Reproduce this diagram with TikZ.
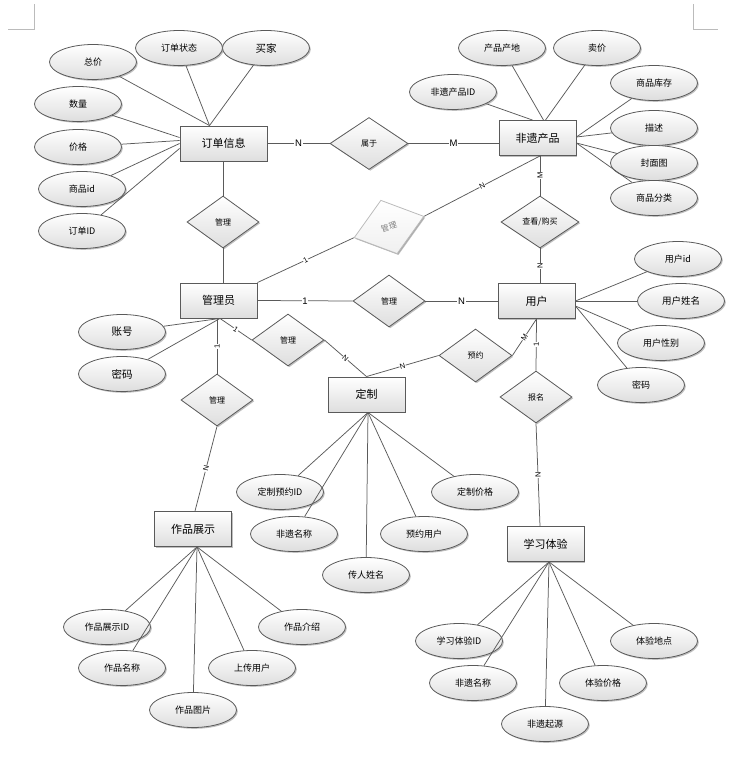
\documentclass[tikz,border=0pt]{standalone}
\usepackage{fontspec}
\setmainfont{Noto Sans CJK SC}
\newfontfamily\latfont{Liberation Sans}
\usetikzlibrary{shapes.geometric,shadows,calc}
\definecolor{linec}{HTML}{5A5A5A}
\definecolor{fillb}{HTML}{DEDEDE}
\definecolor{markc}{HTML}{BBBBBB}
\begin{document}
\begin{tikzpicture}[x=1pt,y=-1pt,
  shd/.style={drop shadow={shadow xshift=1.3pt,shadow yshift=-1.3pt,opacity=0.25,fill=black}},
  ent/.style={rectangle,draw=linec,line width=0.9pt,top color=white,bottom color=fillb,shd,
    minimum width=77pt,minimum height=35pt,inner sep=0pt,font=\fontsize{11}{11}\selectfont},
  attr/.style={ellipse,draw=linec,line width=0.8pt,top color=white,bottom color=fillb,shd,
    minimum width=87pt,minimum height=35pt,inner sep=0pt,font=\fontsize{9}{9}\selectfont},
  bigattr/.style={attr,font=\fontsize{10.5}{10.5}\selectfont},
  rel/.style={diamond,draw=linec,line width=0.8pt,top color=white,bottom color=fillb,shd,
    minimum width=72pt,minimum height=52pt,inner sep=0pt,font=\fontsize{8}{8}\selectfont},
  conn/.style={draw=linec,line width=0.75pt},
  lab/.style={fill=white,inner sep=0.6pt,font=\latfont\fontsize{9.5}{9.5}\selectfont},
  slab/.style={fill=white,inner sep=0.4pt,font=\latfont\fontsize{7.5}{7.5}\selectfont},
  pgmark/.style={draw=markc,line width=0.6pt}
]
\useasboundingbox (0,0) rectangle (740,768);

% page corner marks
\coordinate (tl1) at (8,29); \coordinate (tl2) at (34,29); \coordinate (tl3) at (34,4);
\draw[pgmark] (tl1) -- (tl2) -- (tl3);
\coordinate (tr1) at (693,4); \coordinate (tr2) at (693,29); \coordinate (tr3) at (718,29);
\draw[pgmark] (tr1) -- (tr2) -- (tr3);

% entities
\node[ent,minimum width=87pt] (dd) at (223.5,143.5) {订单信息};
\node[ent] (fy) at (537.5,138) {非遗产品};
\node[ent] (gly) at (218.5,300.5) {管理员};
\node[ent] (yh) at (536.5,301) {用户};
\node[ent] (dz) at (366.5,394.5) {定制};
\node[ent] (zp) at (193,529) {作品展示};
\node[ent] (xx) at (545.5,544) {学习体验};

% relationships
\node[rel,minimum width=78pt] (sy) at (369,143.5) {属于};
\node[rel] (gl1) at (223,222) {管理};
\node[rel,draw=markc,top color=white,bottom color=gray!12,text=gray,rotate=17,minimum width=73pt,minimum height=56pt,drop shadow={shadow xshift=0.8pt,shadow yshift=-0.8pt,opacity=0.12,fill=black}] (gl2) at (389,227) {管理};
\node[rel,minimum width=78pt] (ck) at (540,222) {查看/购买};
\node[rel] (gl3) at (389,301) {管理};
\node[rel] (gl4) at (288,340) {管理};
\node[rel] (gl5) at (217,400) {管理};
\node[rel,minimum width=73pt,minimum height=53pt] (yy) at (475.5,355.5) {预约};
\node[rel] (bm) at (536,397) {报名};

% attributes of 订单信息
\node[attr] (a1) at (179,48) {订单状态};
\node[bigattr] (a2) at (266,48) {买家};
\node[attr] (a3) at (93,62) {总价};
\node[attr] (a4) at (78,104) {数量};
\node[attr] (a5) at (78,147) {价格};
\node[attr] (a6) at (82,189) {商品id};
\node[attr] (a7) at (82,231) {订单ID};
% attributes of 非遗产品
\node[attr] (b1) at (502,48) {产品产地};
\node[attr] (b2) at (597,48) {卖价};
\node[attr] (b3) at (453,92) {非遗产品ID};
\node[attr] (b4) at (654,83) {商品库存};
\node[attr] (b5) at (654,128) {描述};
\node[attr] (b6) at (654,163) {封面图};
\node[attr] (b7) at (654,198) {商品分类};
% attributes of 用户
\node[attr] (c1) at (678,259) {用户id};
\node[attr,font=\fontsize{9.5}{9.5}\selectfont] (c2) at (681,301) {用户姓名};
\node[attr] (c3) at (661,343) {用户性别};
\node[attr] (c4) at (641,385) {密码};
% attributes of 管理员
\node[bigattr] (d1) at (122,332) {账号};
\node[bigattr] (d2) at (122,374) {密码};
% attributes of 定制
\node[attr] (e1) at (280,492) {定制预约ID};
\node[attr] (e2) at (294,534) {非遗名称};
\node[attr] (e3) at (366,575) {传人姓名};
\node[attr] (e4) at (424,534) {预约用户};
\node[attr] (e5) at (475,492) {定制价格};
% attributes of 作品展示
\node[attr] (f1) at (107,627) {作品展示ID};
\node[attr] (f2) at (122,668) {作品名称};
\node[attr] (f3) at (193,710) {作品图片};
\node[attr] (f4) at (252,668) {上传用户};
\node[attr] (f5) at (302,627) {作品介绍};
% attributes of 学习体验
\node[attr] (g1) at (459,641) {学习体验ID};
\node[attr] (g2) at (473,683) {非遗名称};
\node[attr] (g3) at (545,724) {非遗起源};
\node[attr] (g4) at (603,683) {体验价格};
\node[attr] (g5) at (654,641) {体验地点};

% attribute connectors
\draw[conn] (a1) -- ($(dd.north)+(-14,0)$);
\draw[conn] (a2) -- ($(dd.north)+(-14,0)$);
\draw[conn] (a3) -- ($(dd.north)+(-14,0)$);
\draw[conn] (a4) -- ($(dd.west)+(0,-6)$);
\draw[conn] (a5) -- ($(dd.west)+(0,-3)$);
\draw[conn] (a6) -- (dd.west);
\draw[conn] (a7) -- ($(dd.west)+(0,5)$);

\draw[conn] (b1) -- ($(fy.north)+(6,0)$);
\draw[conn] (b2) -- ($(fy.north)+(8,0)$);
\draw[conn] (b3) -- ($(fy.north)+(-5,0)$);
\draw[conn] (b4) -- ($(fy.east)+(0,-1)$);
\draw[conn] (b5) -- ($(fy.east)+(0,-1)$);
\draw[conn] (b6) -- ($(fy.east)+(0,5)$);
\draw[conn] (b7) -- ($(fy.east)+(0,5)$);

\draw[conn] (c1) -- (yh.east);
\draw[conn] (c2) -- (yh.east);
\draw[conn] (c3) -- ($(yh.east)+(0,5)$);
\draw[conn] (c4) -- ($(yh.east)+(0,5)$);

\draw[conn] (d1) -- ($(gly.south)+(1.5,0)$);
\draw[conn] (d2) -- ($(gly.south)+(1.5,0)$);

\draw[conn] (e1) -- ($(dz.south)+(1.5,0)$);
\draw[conn] (e2) -- ($(dz.south)+(1.5,0)$);
\draw[conn] (e3) -- ($(dz.south)+(1.5,0)$);
\draw[conn] (e4) -- ($(dz.south)+(1.5,0)$);
\draw[conn] (e5) -- ($(dz.south)+(1.5,0)$);

\draw[conn] (f1) -- ($(zp.south)+(4,0)$);
\draw[conn] (f2) -- ($(zp.south)+(4,0)$);
\draw[conn] (f3) -- ($(zp.south)+(4,0)$);
\draw[conn] (f4) -- ($(zp.south)+(4,0)$);
\draw[conn] (f5) -- ($(zp.south)+(4,0)$);

\draw[conn] (g1) -- ($(xx.south)+(3.5,0)$);
\draw[conn] (g2) -- ($(xx.south)+(3.5,0)$);
\draw[conn] (g3) -- ($(xx.south)+(3.5,0)$);
\draw[conn] (g4) -- ($(xx.south)+(3.5,0)$);
\draw[conn] (g5) -- ($(xx.south)+(3.5,0)$);

% relationship connectors
\draw[conn] (dd.east) -- node[lab]{N} (sy.west);
\draw[conn] (sy.east) -- node[lab]{M} (sy.east -| fy.west);
\draw[conn] (dd.south -| gl1.north) -- (gl1.north);
\draw[conn] (gl1.south) -- (gl1.south |- gly.north);
\draw[conn] (gly.north east) -- node[slab,rotate=27]{1} (gl2.west);
\draw[conn] (gl2.east) -- node[slab,rotate=26]{N} (ck.north |- fy.south);
\draw[conn] (ck.north |- fy.south) -- node[slab,rotate=90]{M} (ck.north);
\draw[conn] (ck.south) -- node[slab,rotate=90]{N} (ck.south |- yh.north);
\draw[conn] (gly.east) -- node[lab]{1} (gl3.west);
\draw[conn] (gl3.east) -- node[lab]{N} (gl3.east -| yh.west);
\draw[conn] (yh.south) -- node[slab,rotate=56]{M} (yy.east);
\draw[conn] (yy.west) -- node[slab,rotate=16]{N} (dz.north);
\draw[conn] (yh.south) -- node[slab,rotate=90]{1} (bm.north);
\draw[conn] (bm.south) -- node[slab,rotate=90]{N} ($(xx.north)+(-5.5,0)$);
\draw[conn] (gly.south -| gl5.north) -- node[slab,rotate=90]{1} (gl5.north);
\draw[conn] (gl5.south) -- node[slab,rotate=76]{N} ($(zp.north)+(2,0)$);
\draw[conn] ($(gly.south)+(1.5,0)$) -- node[slab,rotate=-33]{1} (gl4.west);
\draw[conn] (gl4.east) -- node[slab,rotate=-41]{N} (dz.north);
\end{tikzpicture}
\end{document}
